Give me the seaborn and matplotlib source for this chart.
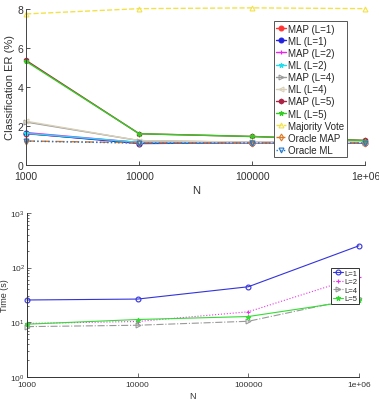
import numpy as np
import pandas as pd
import seaborn as sns
import matplotlib.pyplot as plt
from matplotlib.ticker import FixedLocator, LogLocator, NullFormatter

sns.set_style("ticks")
plt.rcParams['font.family'] = ['Liberation Sans', 'DejaVu Sans']

N = [1000, 10000, 100000, 1000000]
n_labels = ["1000", "10000", "100000", "1e+06"]

# classification error (%)
map_l1 = [1.60, 1.15, 1.15, 1.15]
ml_l1 = [1.62, 1.10, 1.14, 1.12]
map_l2 = [1.66, 1.15, 1.15, 1.15]
ml_l2 = [1.62, 1.16, 1.15, 1.15]
map_l4 = [2.20, 1.25, 1.16, 1.15]
ml_l4 = [2.24, 1.25, 1.17, 1.16]
map_l5 = [5.35, 1.60, 1.46, 1.26]
ml_l5 = [5.30, 1.60, 1.46, 1.25]
majority = [7.73, 8.00, 8.04, 8.00]
oracle_map = [1.23, 1.14, 1.14, 1.14]
oracle_ml = [1.22, 1.12, 1.12, 1.12]

# run time (s)
time_l1 = [25.5, 26.5, 44.5, 250]
time_l2 = [9.5, 10.3, 15.5, 68]
time_l4 = [8.3, 8.8, 10.4, 28]
time_l5 = [9.2, 11.2, 12.7, 25.5]

fig = plt.figure(figsize=(3.79, 4.02), dpi=100)
ax1 = fig.add_axes([0.069, 0.587, 0.895, 0.389])
ax2 = fig.add_axes([0.071, 0.060, 0.876, 0.408])

er_series = [
    ("MAP (L=1)", map_l1, "#ff3333", "o", "-"),
    ("ML (L=1)", ml_l1, "#2222dd", "o", "-"),
    ("MAP (L=2)", map_l2, "#ee22ee", "+", "-"),
    ("ML (L=2)", ml_l2, "#22ddee", "*", "-"),
    ("MAP (L=4)", map_l4, "#999999", ">", "-"),
    ("ML (L=4)", ml_l4, "#d8d0b8", "<", "-"),
    ("MAP (L=5)", map_l5, "#aa2244", "h", "-"),
    ("ML (L=5)", ml_l5, "#33cc22", "*", "-"),
    ("Majority Vote", majority, "#f2e24a", "^", "--"),
    ("Oracle MAP", oracle_map, "#dd7722", "d", "-."),
    ("Oracle ML", oracle_ml, "#2277cc", "v", ":"),
]

for name, vals, col, mk, ls in er_series:
    sns.lineplot(x=N, y=vals, ax=ax1, color=col, marker=mk, linestyle=ls,
                 linewidth=1.0, markersize=3.5, markeredgewidth=0.8,
                 markeredgecolor=col,
                 markerfacecolor="none" if mk in "^dv<>" else col,
                 label=name, clip_on=False)

ax1.set_xscale("log")
ax1.set_xlim(1000, 1000000)
ax1.set_ylim(0, 8)
ax1.xaxis.set_major_locator(FixedLocator(N))
ax1.xaxis.set_minor_locator(FixedLocator([]))
ax1.set_xticklabels(n_labels)
ax1.set_yticks([0, 2, 4, 6, 8])
ax1.tick_params(direction="in", labelsize=7.5, colors="#333333", length=3, width=0.6, pad=2)
ax1.tick_params(axis="x", pad=4)
ax1.set_xlabel("N", fontsize=8, color="#333333", labelpad=3)
ax1.set_ylabel("Classification ER (%)", fontsize=8, color="#333333", labelpad=2)
sns.despine(ax=ax1)
for s in ax1.spines.values():
    s.set_linewidth(0.7)
    s.set_color("#444444")
leg = ax1.legend(loc="upper right", bbox_to_anchor=(0.945, 0.92), fontsize=7,
                 frameon=True, fancybox=False, edgecolor="#555555",
                 handlelength=1.0, handletextpad=0.2, labelspacing=0.22,
                 borderpad=0.25, borderaxespad=0, framealpha=1)
leg.get_frame().set_linewidth(0.7)

time_series = [
    ("L=1", time_l1, "#3333dd", "o", "-"),
    ("L=2", time_l2, "#ee33ee", "+", ":"),
    ("L=4", time_l4, "#999999", ">", "-."),
    ("L=5", time_l5, "#33dd33", "*", "-"),
]
for name, vals, col, mk, ls in time_series:
    sns.lineplot(x=N, y=vals, ax=ax2, color=col, marker=mk, linestyle=ls,
                 linewidth=0.8, markersize=3.5, markeredgewidth=0.8,
                 markeredgecolor=col,
                 markerfacecolor=col if mk == "*" else "none",
                 label=name, clip_on=False)

ax2.set_xscale("log")
ax2.set_yscale("log")
ax2.set_xlim(1000, 1000000)
ax2.set_ylim(1, 1000)
ax2.xaxis.set_major_locator(FixedLocator(N))
ax2.xaxis.set_minor_locator(FixedLocator([]))
ax2.set_xticklabels(n_labels)
ax2.yaxis.set_minor_locator(LogLocator(base=10, subs=np.arange(2, 10)))
ax2.yaxis.set_minor_formatter(NullFormatter())
ax2.tick_params(which="both", direction="in", labelsize=6, colors="#333333", width=0.5, pad=1.5)
ax2.tick_params(axis="x", pad=3)
ax2.tick_params(which="major", length=3)
ax2.tick_params(which="minor", length=1.5)
ax2.set_xlabel("N", fontsize=6.5, color="#333333", labelpad=2)
ax2.set_ylabel("Time (s)", fontsize=6.5, color="#333333", labelpad=1)
sns.despine(ax=ax2)
for s in ax2.spines.values():
    s.set_linewidth(0.7)
    s.set_color("#333333")
leg2 = ax2.legend(loc="center right", bbox_to_anchor=(1.0, 0.555), fontsize=5.5,
                  frameon=True, fancybox=False, edgecolor="#333333",
                  handlelength=1.3, handletextpad=0.2, labelspacing=0.15,
                  borderpad=0.2, borderaxespad=0, framealpha=1)
leg2.get_frame().set_linewidth(0.7)

fig.savefig("out.png", dpi=100)
